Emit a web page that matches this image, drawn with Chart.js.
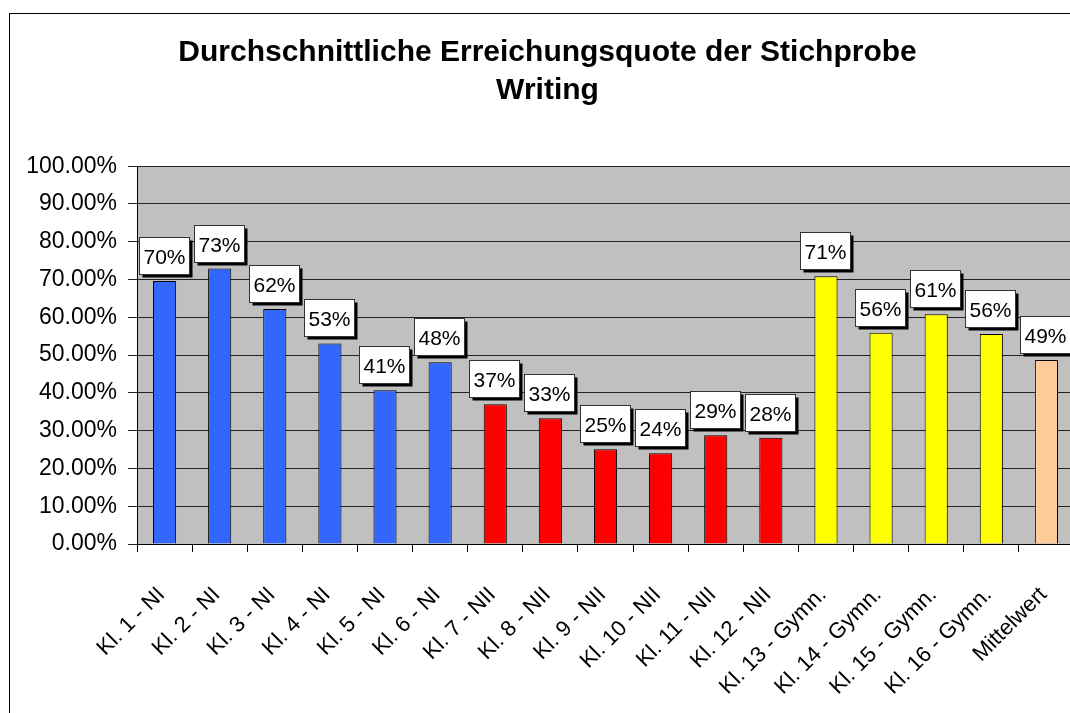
<!DOCTYPE html>
<html lang="de">
<head>
  <meta charset="UTF-8" />
  <title>Durchschnittliche Erreichungsquote der Stichprobe Writing</title>
  <script src="https://cdn.jsdelivr.net/npm/chart.js"></script>
  <style>
    html, body { margin: 0; padding: 0; background: #fff; overflow: hidden; width: 1070px; height: 713px; }
    #frame { position: absolute; left: 9px; top: 13px; width: 1075px; height: 718px; border: 1px solid #000; background: #fff; }
    #frame canvas { display: block; }
  </style>
</head>
<body>
  <div id="frame"><canvas id="chart" width="1075" height="718"></canvas></div>

<script>
  // categories and values
  const classes = [
    "Kl. 1 - NI", "Kl. 2 - NI", "Kl. 3 - NI", "Kl. 4 - NI", "Kl. 5 - NI", "Kl. 6 - NI",
    "Kl. 7 - NII", "Kl. 8 - NII", "Kl. 9 - NII", "Kl. 10 - NII", "Kl. 11 - NII", "Kl. 12 - NII",
    "Kl. 13 - Gymn.", "Kl. 14 - Gymn.", "Kl. 15 - Gymn.", "Kl. 16 - Gymn.", "Mittelwert"
  ];
  const quoteNI = [0.696, 0.729, 0.622, 0.531, 0.407, 0.481];
  const quoteNII = [0.370, 0.333, 0.251, 0.240, 0.288, 0.281];
  const quoteGymn = [0.709, 0.559, 0.608, 0.556];
  const quoteMittel = [0.487];
  const yTicks = [0, 0.1, 0.2, 0.3, 0.4, 0.5, 0.6, 0.7, 0.8, 0.9, 1.0];

  const colNI = "#3366ff", colNII = "#ff0000", colGymn = "#ffff00", colMittel = "#ffcc99";

  const values = [...quoteNI, ...quoteNII, ...quoteGymn, ...quoteMittel];
  const colors = [
    ...quoteNI.map(() => colNI),
    ...quoteNII.map(() => colNII),
    ...quoteGymn.map(() => colGymn),
    ...quoteMittel.map(() => colMittel)
  ];

  const FONT = "'Liberation Sans', Arial, sans-serif";

  // grey plot background
  const plotBg = {
    id: "plotBg",
    beforeDraw(chart) {
      const { ctx, chartArea: a } = chart;
      ctx.save();
      ctx.fillStyle = "#c0c0c0";
      ctx.fillRect(a.left, a.top, a.right - a.left, a.bottom - a.top);
      ctx.restore();
    }
  };

  // boxed value labels with a black drop shadow
  const boxLabels = {
    id: "boxLabels",
    afterDatasetsDraw(chart) {
      const ctx = chart.ctx;
      const meta = chart.getDatasetMeta(0);
      ctx.save();
      ctx.font = "21px " + FONT;
      ctx.textAlign = "center";
      ctx.textBaseline = "alphabetic";
      meta.data.forEach((bar, i) => {
        const txt = Math.round(values[i] * 100) + "%";
        const w = Math.round(ctx.measureText(txt).width) + 8;
        const h = 37;
        const x = Math.round(bar.x - 1 - w / 2) + 0.5;
        const y = Math.round(bar.y - 7 - h) + 0.5;
        ctx.fillStyle = "#000";
        ctx.fillRect(x + 3, y + 3, w, h);
        ctx.fillStyle = "#fff";
        ctx.fillRect(x, y, w, h);
        ctx.strokeStyle = "#333";
        ctx.lineWidth = 1;
        ctx.strokeRect(x, y, w, h);
        ctx.fillStyle = "#000";
        ctx.fillText(txt, x + w / 2, y + 26);
      });
      ctx.restore();
    }
  };

  new Chart(document.getElementById("chart"), {
    type: "bar",
    data: {
      labels: classes,
      datasets: [{
        data: values,
        backgroundColor: colors,
        borderColor: "#000",
        borderWidth: 1,
        categoryPercentage: 1,
        barPercentage: 0.42
      }]
    },
    options: {
      responsive: false,
      animation: false,
      devicePixelRatio: 1,
      layout: { padding: { left: 11, right: 11, top: 0, bottom: 0 } },
      plugins: {
        legend: { display: false },
        tooltip: { enabled: false },
        title: {
          display: true,
          text: ["Durchschnittliche Erreichungsquote der Stichprobe", "Writing"],
          color: "#000",
          font: { family: FONT, size: 30, weight: "bold", lineHeight: 1.27 },
          padding: { top: 20, bottom: 56 }
        }
      },
      scales: {
        x: {
          grid: { drawOnChartArea: false, drawTicks: true, tickLength: 8, color: "#000", offset: true },
          border: { color: "#000", width: 1 },
          ticks: {
            color: "#000",
            font: { family: FONT, size: 22 },
            minRotation: 45,
            maxRotation: 45,
            autoSkip: false,
            padding: 30,
            labelOffset: -3
          },
          afterFit(scale) {
            scale.height = 188;
            scale.paddingLeft = 0;
            scale.paddingRight = 0;
          }
        },
        y: {
          min: 0,
          max: 1,
          afterBuildTicks(scale) { scale.ticks = yTicks.map(v => ({ value: v })); },
          grid: { color: "#222", lineWidth: 1, drawTicks: true, tickLength: 9 },
          border: { color: "#000", width: 1 },
          ticks: {
            color: "#000",
            font: { family: FONT, size: 23 },
            padding: 11,
            callback: v => (v * 100).toFixed(2) + "%"
          },
          afterFit(scale) {
            scale.width = 116;
            scale.paddingTop = 0;
            scale.paddingBottom = 0;
          }
        }
      }
    },
    plugins: [plotBg, boxLabels]
  });
</script>
</body>
</html>
